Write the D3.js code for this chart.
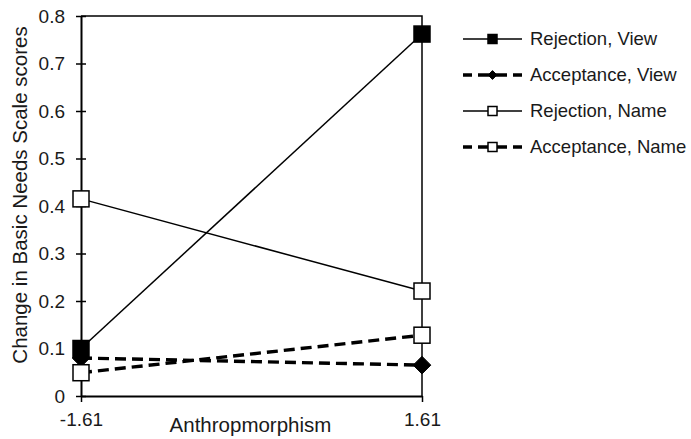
<!DOCTYPE html>
<html>
<head>
<meta charset="utf-8">
<script src="https://cdn.jsdelivr.net/npm/d3@7"></script>
<style>
  body { margin: 0; background: #fff; }
  text { font-family: "Liberation Sans", Arial, sans-serif; fill: #1a1a1a; }
</style>
</head>
<body>
<svg id="chart" width="691" height="439"></svg>
<script>
// anthropomorphism levels (x) and tick labels
const xLevels = [-1.61, 1.61];
const xTickLabels = ['-1.61', '1.61'];
const yTicks = [0, 0.1, 0.2, 0.3, 0.4, 0.5, 0.6, 0.7, 0.8];

// series values
const rejectionView = [0.10, 0.762];
const acceptanceView = [0.08, 0.065];
const rejectionName = [0.415, 0.221];
const acceptanceName = [0.049, 0.128];

const seriesNames = ['Rejection, View', 'Acceptance, View', 'Rejection, Name', 'Acceptance, Name'];

const series = [
	{ name: seriesNames[0], values: rejectionView, dashed: false, marker: 'square', fill: '#000' },
	{ name: seriesNames[1], values: acceptanceView, dashed: true, marker: 'diamond', fill: '#000' },
	{ name: seriesNames[2], values: rejectionName, dashed: false, marker: 'square', fill: '#fff' },
	{ name: seriesNames[3], values: acceptanceName, dashed: true, marker: 'square', fill: '#fff' }
];

const margin = { top: 16, right: 269, bottom: 43, left: 81 };
const width = 691, height = 439;
const chartW = width - margin.left - margin.right;
const chartH = height - margin.top - margin.bottom;

const svg = d3.select('#chart');
const g = svg.append('g').attr('transform', `translate(${margin.left},${margin.top})`);

const x = d3.scalePoint().domain(xLevels).range([0, chartW]);
const y = d3.scaleLinear().domain([0, 0.8]).range([chartH, 0]);

// frame: top and right lines
g.append('path')
	.attr('d', `M0,0H${chartW}V${chartH}`)
	.attr('fill', 'none')
	.attr('stroke', '#000')
	.attr('stroke-width', 1.5);

// y axis
const yAxis = g.append('g')
	.call(d3.axisLeft(y).tickValues(yTicks).tickFormat(d => d === 0 ? '0' : d3.format('.1f')(d)).tickSizeInner(5).tickSizeOuter(0));
yAxis.select('.domain').attr('stroke-width', 2);
yAxis.selectAll('.tick line').attr('x1', 5).attr('x2', -5).attr('stroke-width', 1.5);
yAxis.selectAll('.tick text').attr('x', -16).style('font-size', '19px').attr('font-family', null);

// x axis
const xAxis = g.append('g')
	.attr('transform', `translate(0,${chartH})`)
	.call(d3.axisBottom(x).tickFormat((d, i) => xTickLabels[i]).tickSizeInner(6).tickSizeOuter(0));
xAxis.select('.domain').attr('stroke-width', 2);
xAxis.selectAll('.tick line').attr('stroke-width', 1.5);
xAxis.selectAll('.tick text').attr('y', 17).style('font-size', '19px').attr('font-family', null);

// axis titles
g.append('text')
	.attr('x', chartW / 2 - 1)
	.attr('y', chartH + 36)
	.attr('text-anchor', 'middle')
	.style('font-size', '20.5px')
	.text('Anthropmorphism');

svg.append('text')
	.attr('transform', `translate(27,${margin.top + chartH / 2 - 11}) rotate(-90)`)
	.attr('text-anchor', 'middle')
	.style('font-size', '20.5px')
	.text('Change in Basic Needs Scale scores');

const line = d3.line()
	.x((d, i) => x(xLevels[i]))
	.y(d => y(d));

function drawMarker(sel, type, fill, size) {
	if (type === 'square') {
		sel.append('rect')
			.attr('x', -size / 2).attr('y', -size / 2)
			.attr('width', size).attr('height', size)
			.attr('fill', fill).attr('stroke', '#000').attr('stroke-width', 1.5);
	} else {
		const r = size * 0.55;
		sel.append('path')
			.attr('d', `M0,${-r}L${r},0L0,${r}L${-r},0Z`)
			.attr('fill', fill).attr('stroke', '#000').attr('stroke-width', 1);
	}
}

// lines
series.forEach(s => {
	g.append('path')
		.datum(s.values)
		.attr('d', line)
		.attr('fill', 'none')
		.attr('stroke', '#000')
		.attr('stroke-width', s.dashed ? 3.4 : 1.5)
		.attr('stroke-dasharray', s.dashed ? '11,6' : null);
});

series.forEach(s => {
	s.values.forEach((v, i) => {
		const m = g.append('g').attr('transform', `translate(${x(xLevels[i])},${y(v)})`);
		drawMarker(m, s.marker, s.fill, 16);
	});
});

// legend
const legend = svg.append('g').attr('transform', 'translate(463,39)');
series.forEach((s, i) => {
	const row = legend.append('g').attr('transform', `translate(0,${i * 36})`);
	row.append('line')
		.attr('x1', 0).attr('x2', 59)
		.attr('stroke', '#000')
		.attr('stroke-width', s.dashed ? 3.4 : 1.5)
		.attr('stroke-dasharray', s.dashed ? '9,6,29,6,9' : null);
	const m = row.append('g').attr('transform', 'translate(29.5,0)');
	drawMarker(m, s.marker, s.fill, s.marker === 'square' ? 9 : 8);
	row.append('text')
		.attr('x', 67)
		.attr('dy', '0.35em')
		.style('font-size', '18.5px')
		.text(s.name);
});
</script>
</body>
</html>
